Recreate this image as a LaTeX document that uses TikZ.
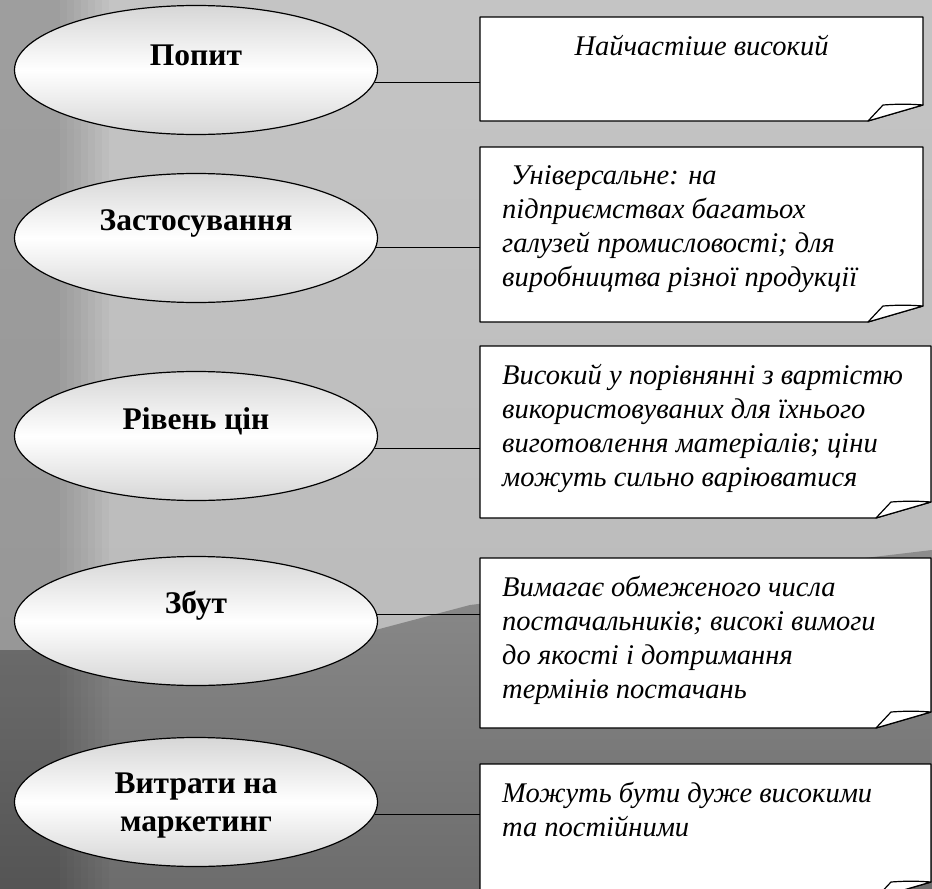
\documentclass[tikz,border=0pt]{standalone}
\usepackage{fontspec}
\setmainfont{Liberation Serif}
\usetikzlibrary{shapes.geometric}

\definecolor{bgtop}{gray}{0.77}
\definecolor{bgmid}{gray}{0.72}
\definecolor{bgdark}{gray}{0.5}

\begin{document}
\begin{tikzpicture}[
    x=1pt, y=-1pt,
    oval/.style={draw, line width=1.2pt, ellipse, minimum width=363pt,
                 minimum height=129pt, inner sep=0pt,
                 top color=gray!32, bottom color=gray!32, middle color=white},
    ovaltext/.style={font=\bfseries\fontsize{31.5}{38}\selectfont, align=center},
    note/.style={inner sep=0pt, outer sep=0pt, anchor=north west},
    notetext/.style={font=\itshape\fontsize{28.5}{34}\selectfont,
                     align=left, anchor=north west, inner sep=0pt},
    link/.style={line width=1.2pt}
  ]
  \useasboundingbox (0,0) rectangle (932,889);
  \clip (0,0) rectangle (932,889);

  % Background photo
  \shade[top color=bgtop, bottom color=bgmid] (0,0) rectangle (932,889);
  \shade[top color=bgdark!90!white, bottom color=bgdark!85!black]
    (0,650) -- (300,650) -- (470,605) -- (932,550)
    -- (932,889) -- (0,889) -- cycle;
  \foreach \k in {0,...,7} {
    \fill[black, opacity=0.025] (0,0) rectangle (60+7*\k,889);
  }

  % Left ovals
  \node[oval] (e1) at (196,70) {};
  \node[oval] (e2) at (196,238) {};
  \node[oval] (e3) at (196,436) {};
  \node[oval] (e4) at (196,621) {};
  \node[oval] (e5) at (196,802) {};

  \node[ovaltext] (l1) at ([yshift=15pt]e1.center) {Попит};
  \node[ovaltext] (l2) at ([yshift=15pt]e2.center) {Застосування};
  \node[ovaltext] (l3) at ([yshift=15pt]e3.center) {Рівень цін};
  \node[ovaltext] (l4) at ([yshift=15pt]e4.center) {Збут};
  \node[ovaltext] (l5) at ([yshift=-4pt]e5.center) {Витрати на\\маркетинг};

  % Right notes
  \node[note, minimum width=443pt, minimum height=104pt] (n1) at (480,17) {};
  \node[note, minimum width=443pt, minimum height=175pt] (n2) at (480,147) {};
  \node[note, minimum width=451pt, minimum height=172pt] (n3) at (480,346) {};
  \node[note, minimum width=451pt, minimum height=170pt] (n4) at (480,558) {};
  \node[note, minimum width=451pt, minimum height=134pt] (n5) at (480,764) {};

  \foreach \n in {n1,n2,n3,n4,n5} {
    \filldraw[fill=white, line width=1.2pt, line join=round]
      (\n.north west) -- (\n.north east) -- ([yshift=16pt]\n.south east)
      -- ([xshift=-55pt]\n.south east) -- (\n.south west) -- cycle;
    \filldraw[fill=white, line width=1.2pt, line join=round]
      ([xshift=-55pt]\n.south east) -- ([shift={(-40pt,16pt)}]\n.south east)
      to[bend left=4] ([yshift=16pt]\n.south east) -- cycle;
  }

  \node[notetext, anchor=north] (t1) at ([yshift=-18pt]n1.north)
    {Найчастіше високий};
  \node[notetext] (t2) at ([shift={(22pt,-18pt)}]n2.north west)
    {\hspace*{9pt}Універсальне: на\\підприємствах багатьох\\галузей промисловості; для\\виробництва різної продукції};
  \node[notetext] (t3) at ([shift={(22pt,-18pt)}]n3.north west)
    {Високий у порівнянні з вартістю\\використовуваних для їхнього\\виготовлення матеріалів; ціни\\можуть сильно варіюватися};
  \node[notetext] (t4) at ([shift={(22pt,-18pt)}]n4.north west)
    {Вимагає обмеженого числа\\постачальників; високі вимоги\\до якості і дотримання\\термінів постачань};
  \node[notetext] (t5) at ([shift={(22pt,-18pt)}]n5.north west)
    {Можуть бути дуже високими\\та постійними};

  % Connections
  \foreach \i/\a in {1/-4, 2/-3, 3/-4.5, 4/2, 5/-4} {
    \draw[link] (e\i.\a) -- (e\i.\a -| n\i.west);
  }
\end{tikzpicture}
\end{document}
